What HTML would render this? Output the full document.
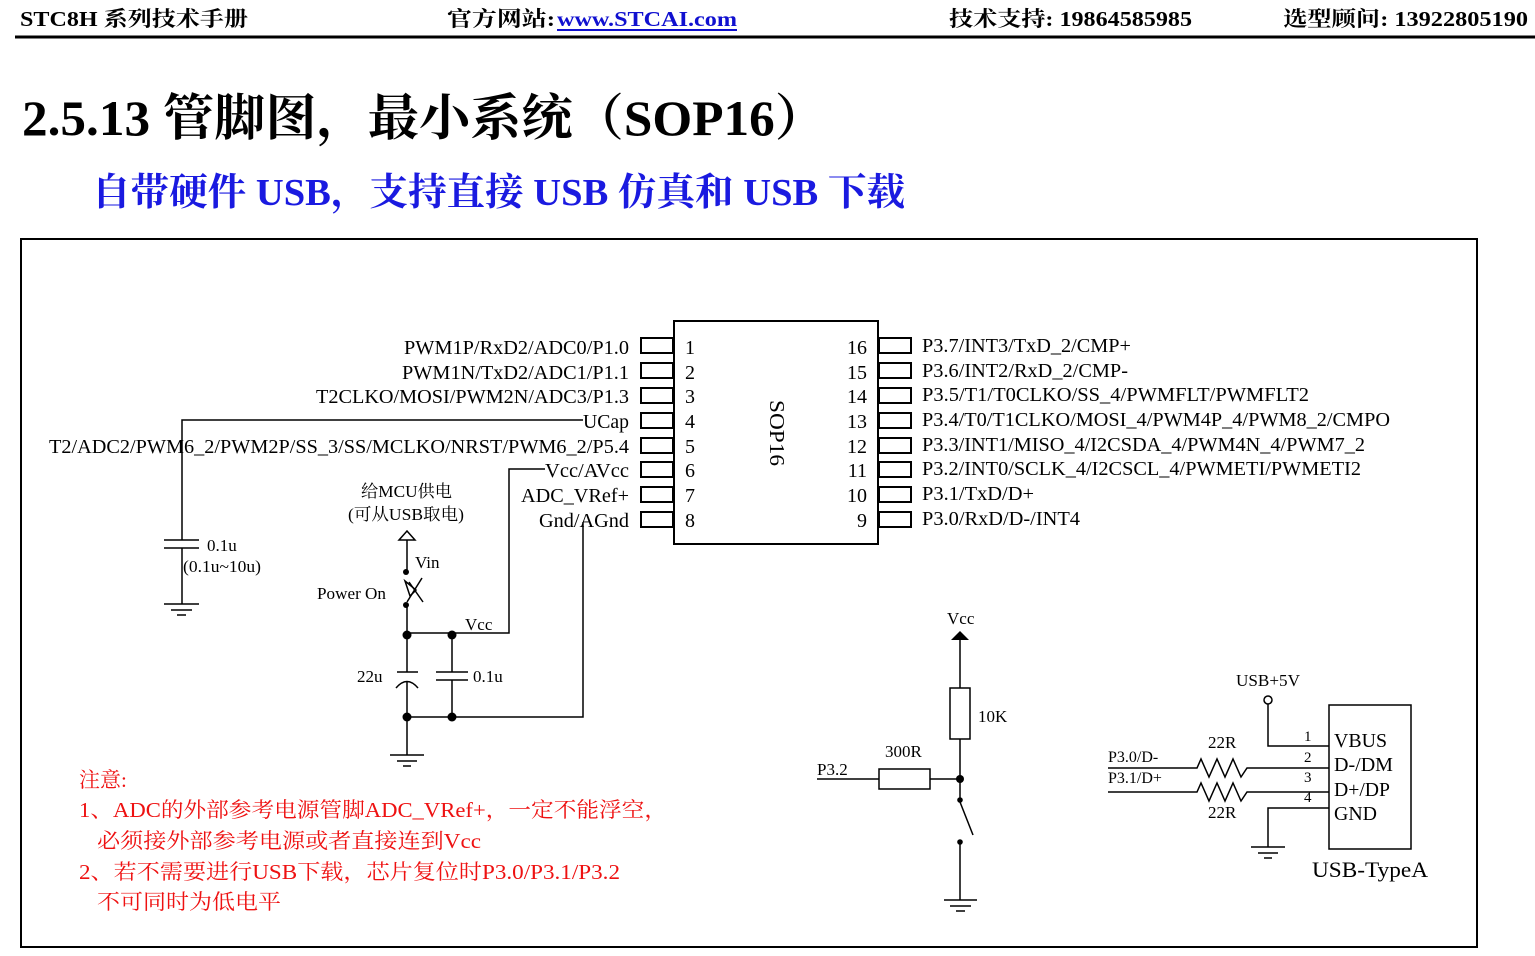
<!DOCTYPE html>
<html><head><meta charset="utf-8"><style>
html,body{margin:0;padding:0;background:#fff;width:1535px;height:956px;overflow:hidden}
svg{display:block}
text{font-family:"Liberation Serif","Noto Serif CJK SC",serif;fill:#000}
.h{font-family:"Liberation Serif","Noto Serif CJK SC",serif;font-weight:bold}
.r{fill:#ee1111;font-size:21px}
</style></head><body>
<svg width="1535" height="956" viewBox="0 0 1535 956" xmlns="http://www.w3.org/2000/svg">
<!-- header -->
<text class="h" x="20" y="26" font-size="21" textLength="228" lengthAdjust="spacingAndGlyphs">STC8H 系列技术手册</text>
<text class="h" x="447" y="26" font-size="21" textLength="108" lengthAdjust="spacingAndGlyphs">官方网站:</text>
<text class="h" x="557" y="26" font-size="21" style="fill:#1010d0" textLength="180" lengthAdjust="spacingAndGlyphs">www.STCAI.com</text>
<line x1="557" y1="30" x2="737" y2="30" stroke="#1010d0" stroke-width="2"/>
<text class="h" x="949" y="26" font-size="21" textLength="243" lengthAdjust="spacingAndGlyphs">技术支持: 19864585985</text>
<text class="h" x="1283" y="26" font-size="21" textLength="245" lengthAdjust="spacingAndGlyphs">选型顾问: 13922805190</text>
<line x1="15" y1="37" x2="1535" y2="37" stroke="#000" stroke-width="3"/>
<text class="h" x="22" y="135" font-size="50" textLength="804" lengthAdjust="spacingAndGlyphs">2.5.13 管脚图，最小系统（SOP16）</text>
<text class="h" x="92" y="205" font-size="38" style="fill:#1a1ae0" textLength="813" lengthAdjust="spacingAndGlyphs">自带硬件 USB，支持直接 USB 仿真和 USB 下载</text>
<!-- frame -->
<rect x="21" y="239" width="1456" height="708" fill="none" stroke="#000" stroke-width="2"/>
<g stroke="#000" stroke-width="2" fill="none">
<rect x="674" y="321" width="204" height="223"/>
<rect x="641" y="338" width="32" height="15"/><rect x="641" y="363" width="32" height="15"/>
<rect x="641" y="388" width="32" height="15"/><rect x="641" y="413" width="32" height="15"/>
<rect x="641" y="438" width="32" height="15"/><rect x="641" y="462" width="32" height="15"/>
<rect x="641" y="487" width="32" height="15"/><rect x="641" y="512" width="32" height="15"/>
<rect x="879" y="338" width="32" height="15"/><rect x="879" y="363" width="32" height="15"/>
<rect x="879" y="388" width="32" height="15"/><rect x="879" y="413" width="32" height="15"/>
<rect x="879" y="438" width="32" height="15"/><rect x="879" y="462" width="32" height="15"/>
<rect x="879" y="487" width="32" height="15"/><rect x="879" y="512" width="32" height="15"/>
</g>
<g>
<text x="685" y="354" font-size="20">1</text><text x="685" y="379" font-size="20">2</text>
<text x="685" y="403" font-size="20">3</text><text x="685" y="428" font-size="20">4</text>
<text x="685" y="453" font-size="20">5</text><text x="685" y="477" font-size="20">6</text>
<text x="685" y="502" font-size="20">7</text><text x="685" y="527" font-size="20">8</text>
<text x="867" y="354" font-size="20" text-anchor="end">16</text><text x="867" y="379" font-size="20" text-anchor="end">15</text>
<text x="867" y="403" font-size="20" text-anchor="end">14</text><text x="867" y="428" font-size="20" text-anchor="end">13</text>
<text x="867" y="453" font-size="20" text-anchor="end">12</text><text x="867" y="477" font-size="20" text-anchor="end">11</text>
<text x="867" y="502" font-size="20" text-anchor="end">10</text><text x="867" y="527" font-size="20" text-anchor="end">9</text>
</g>
<text x="0" y="0" font-size="21" transform="translate(770,400) rotate(90)" textLength="66" lengthAdjust="spacingAndGlyphs">SOP16</text>
<!-- left labels -->
<g>
<text x="404" y="354" font-size="20" textLength="225" lengthAdjust="spacingAndGlyphs">PWM1P/RxD2/ADC0/P1.0</text>
<text x="402" y="379" font-size="20" textLength="227" lengthAdjust="spacingAndGlyphs">PWM1N/TxD2/ADC1/P1.1</text>
<text x="316" y="403" font-size="20" textLength="313" lengthAdjust="spacingAndGlyphs">T2CLKO/MOSI/PWM2N/ADC3/P1.3</text>
<text x="583" y="428" font-size="20" textLength="46" lengthAdjust="spacingAndGlyphs">UCap</text>
<text x="49" y="453" font-size="20" textLength="580" lengthAdjust="spacingAndGlyphs">T2/ADC2/PWM6_2/PWM2P/SS_3/SS/MCLKO/NRST/PWM6_2/P5.4</text>
<text x="545" y="477" font-size="20" textLength="84" lengthAdjust="spacingAndGlyphs">Vcc/AVcc</text>
<text x="521" y="502" font-size="20" textLength="108" lengthAdjust="spacingAndGlyphs">ADC_VRef+</text>
<text x="539" y="527" font-size="20" textLength="90" lengthAdjust="spacingAndGlyphs">Gnd/AGnd</text>
<text x="922" y="352" font-size="20" textLength="209" lengthAdjust="spacingAndGlyphs">P3.7/INT3/TxD_2/CMP+</text>
<text x="922" y="377" font-size="20" textLength="206" lengthAdjust="spacingAndGlyphs">P3.6/INT2/RxD_2/CMP-</text>
<text x="922" y="401" font-size="20" textLength="387" lengthAdjust="spacingAndGlyphs">P3.5/T1/T0CLKO/SS_4/PWMFLT/PWMFLT2</text>
<text x="922" y="426" font-size="20" textLength="468" lengthAdjust="spacingAndGlyphs">P3.4/T0/T1CLKO/MOSI_4/PWM4P_4/PWM8_2/CMPO</text>
<text x="922" y="451" font-size="20" textLength="443" lengthAdjust="spacingAndGlyphs">P3.3/INT1/MISO_4/I2CSDA_4/PWM4N_4/PWM7_2</text>
<text x="922" y="475" font-size="20" textLength="439" lengthAdjust="spacingAndGlyphs">P3.2/INT0/SCLK_4/I2CSCL_4/PWMETI/PWMETI2</text>
<text x="922" y="500" font-size="20" textLength="112" lengthAdjust="spacingAndGlyphs">P3.1/TxD/D+</text>
<text x="922" y="525" font-size="20" textLength="158" lengthAdjust="spacingAndGlyphs">P3.0/RxD/D-/INT4</text>
</g>
<!-- wires left -->
<g stroke="#000" stroke-width="1.5" fill="none">
<polyline points="583,420 182,420 182,540"/>
<line x1="182" y1="548" x2="182" y2="604"/>
<line x1="164" y1="540" x2="199" y2="540"/><line x1="164" y1="548" x2="199" y2="548"/>
<line x1="164" y1="604" x2="199" y2="604"/><line x1="171" y1="610" x2="192" y2="610"/><line x1="177" y1="615" x2="186" y2="615"/>
<polyline points="545,469 509,469 509,633 407,633"/>
<polyline points="583,522 583,717 407,717"/>
<polygon points="399,540 407,531 415,540 407,540"/>
<line x1="407" y1="540" x2="407" y2="572"/>
<line x1="407" y1="604" x2="407" y2="672"/>
<line x1="397" y1="672" x2="418" y2="672"/>
<path d="M396,688 Q407,675 418,688"/>
<line x1="407" y1="681" x2="407" y2="755"/>
<line x1="452" y1="633" x2="452" y2="672"/><line x1="452" y1="680" x2="452" y2="717"/>
<line x1="436" y1="672" x2="468" y2="672"/><line x1="436" y1="680" x2="468" y2="680"/>
<line x1="390" y1="755" x2="424" y2="755"/><line x1="397" y1="761" x2="417" y2="761"/><line x1="403" y1="766" x2="411" y2="766"/>
<line x1="407" y1="602" x2="422" y2="578"/><line x1="409" y1="582" x2="423" y2="602"/>
<polygon points="405,581 416,590 410,596" />
</g>
<g fill="#000">
<circle cx="406" cy="572" r="3"/><circle cx="406" cy="605" r="3"/>
<circle cx="407" cy="635" r="4.5"/><circle cx="452" cy="635" r="4.5"/>
<circle cx="407" cy="717" r="4.5"/><circle cx="452" cy="717" r="4.5"/>
</g>
<g>
<text x="207" y="551" font-size="17">0.1u</text>
<text x="183" y="572" font-size="17" textLength="78" lengthAdjust="spacingAndGlyphs">(0.1u~10u)</text>
<text x="361" y="497" font-size="17" textLength="91" lengthAdjust="spacingAndGlyphs">给MCU供电</text>
<text x="348" y="520" font-size="17" textLength="116" lengthAdjust="spacingAndGlyphs">(可从USB取电)</text>
<text x="415" y="568" font-size="17">Vin</text>
<text x="317" y="599" font-size="17" textLength="69" lengthAdjust="spacingAndGlyphs">Power On</text>
<text x="465" y="630" font-size="17">Vcc</text>
<text x="357" y="682" font-size="17">22u</text>
<text x="473" y="682" font-size="17">0.1u</text>
</g>
<!-- P3.2 circuit -->
<g stroke="#000" stroke-width="1.5" fill="none">
<line x1="960" y1="640" x2="960" y2="688"/>
<rect x="950" y="688" width="20" height="51"/>
<line x1="960" y1="739" x2="960" y2="800"/>
<line x1="817" y1="779" x2="879" y2="779"/>
<rect x="879" y="769" width="51" height="20"/>
<line x1="930" y1="779" x2="960" y2="779"/>
<line x1="960" y1="802" x2="973" y2="835"/>
<line x1="960" y1="842" x2="960" y2="900"/>
<line x1="944" y1="900" x2="977" y2="900"/><line x1="950" y1="906" x2="971" y2="906"/><line x1="956" y1="911" x2="965" y2="911"/>
</g>
<polygon points="951,640 960,631 969,640" fill="#000"/>
<g fill="#000"><circle cx="960" cy="779" r="4"/><circle cx="960" cy="800" r="2.8"/><circle cx="960" cy="842" r="2.8"/></g>
<g>
<text x="947" y="624" font-size="17">Vcc</text>
<text x="978" y="722" font-size="17">10K</text>
<text x="885" y="757" font-size="17">300R</text>
<text x="817" y="775" font-size="17">P3.2</text>
</g>
<!-- USB -->
<g stroke="#000" stroke-width="1.5" fill="none">
<rect x="1329" y="705" width="82" height="144"/>
<circle cx="1268" cy="700" r="4"/>
<polyline points="1268,704 1268,746 1329,746"/>
<polyline points="1108,768 1197,768 1201,759 1209,777 1217,759 1225,777 1233,759 1241,777 1247,768 1329,768"/>
<polyline points="1108,792 1197,792 1201,783 1209,801 1217,783 1225,801 1233,783 1241,801 1247,792 1329,792"/>
<polyline points="1329,808 1268,808 1268,847"/>
<line x1="1251" y1="847" x2="1285" y2="847"/><line x1="1258" y1="853" x2="1278" y2="853"/><line x1="1264" y1="858" x2="1272" y2="858"/>
</g>
<g>
<text x="1236" y="686" font-size="17" textLength="64" lengthAdjust="spacingAndGlyphs">USB+5V</text>
<text x="1108" y="762" font-size="16">P3.0/D-</text>
<text x="1108" y="783" font-size="16">P3.1/D+</text>
<text x="1208" y="748" font-size="17">22R</text>
<text x="1208" y="818" font-size="17">22R</text>
<text x="1304" y="741" font-size="15">1</text>
<text x="1304" y="762" font-size="15">2</text>
<text x="1304" y="782" font-size="15">3</text>
<text x="1304" y="802" font-size="15">4</text>
</g>
<g>
<text x="1334" y="747" font-size="20" textLength="53" lengthAdjust="spacingAndGlyphs">VBUS</text>
<text x="1334" y="771" font-size="20" textLength="59" lengthAdjust="spacingAndGlyphs">D-/DM</text>
<text x="1334" y="796" font-size="20" textLength="56" lengthAdjust="spacingAndGlyphs">D+/DP</text>
<text x="1334" y="820" font-size="20" textLength="43" lengthAdjust="spacingAndGlyphs">GND</text>
<text x="1312" y="877" font-size="22" textLength="116" lengthAdjust="spacingAndGlyphs">USB-TypeA</text>
</g>
<!-- notes -->
<text class="r" x="79" y="787">注意:</text>
<text class="r" x="79" y="817" textLength="588" lengthAdjust="spacingAndGlyphs">1、ADC的外部参考电源管脚ADC_VRef+，一定不能浮空，</text>
<text class="r" x="97" y="848" textLength="384" lengthAdjust="spacingAndGlyphs">必须接外部参考电源或者直接连到Vcc</text>
<text class="r" x="79" y="879" textLength="541" lengthAdjust="spacingAndGlyphs">2、若不需要进行USB下载，芯片复位时P3.0/P3.1/P3.2</text>
<text class="r" x="97" y="909" textLength="184" lengthAdjust="spacingAndGlyphs">不可同时为低电平</text>
</svg>
</body></html>
